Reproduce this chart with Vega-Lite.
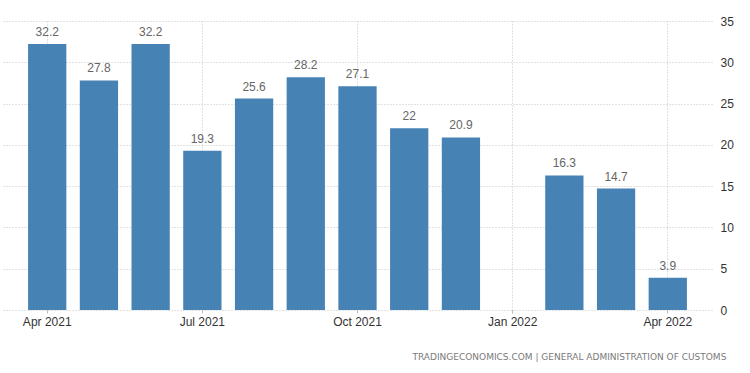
{
  "$schema": "https://vega.github.io/schema/vega-lite/v6.json",
  "width": 709,
  "height": 289,
  "autosize": {"type": "none"},
  "padding": {"left": 3, "top": 21, "right": 38, "bottom": 63},
  "background": "white",
  "config": {"view": {"stroke": null}, "font": "Liberation Sans"},
  "title": {
    "text": "TRADINGECONOMICS.COM  |  GENERAL ADMINISTRATION OF CUSTOMS",
    "orient": "bottom",
    "anchor": "end",
    "fontSize": 9,
    "fontWeight": "normal",
    "color": "#7a7a7a",
    "font": "DejaVu Sans",
    "offset": 26,
    "dx": -7
  },
  "data": {
    "values": [
      {"month": "Apr 2021", "value": 32.2},
      {"month": "May 2021", "value": 27.8},
      {"month": "Jun 2021", "value": 32.2},
      {"month": "Jul 2021", "value": 19.3},
      {"month": "Aug 2021", "value": 25.6},
      {"month": "Sep 2021", "value": 28.2},
      {"month": "Oct 2021", "value": 27.1},
      {"month": "Nov 2021", "value": 22},
      {"month": "Dec 2021", "value": 20.9},
      {"month": "Jan 2022", "value": null},
      {"month": "Feb 2022", "value": 16.3},
      {"month": "Mar 2022", "value": 14.7},
      {"month": "Apr 2022", "value": 3.9}
    ]
  },
  "encoding": {
    "x": {
      "field": "month",
      "type": "ordinal",
      "sort": null,
      "scale": {
        "domain": ["Apr 2021","May 2021","Jun 2021","Jul 2021","Aug 2021","Sep 2021","Oct 2021","Nov 2021","Dec 2021","Jan 2022","Feb 2022","Mar 2022","Apr 2022"],
        "paddingInner": 0.26,
        "paddingOuter": 0.485
      },
      "axis": {
        "title": null,
        "values": ["Apr 2021","Jul 2021","Oct 2021","Jan 2022","Apr 2022"],
        "bandPosition": 0.5,
        "labelAngle": 0,
        "labelFontSize": 12,
        "labelColor": "#333333",
        "labelPadding": 3,
        "domain": false,
        "ticks": true,
        "tickSize": 3,
        "tickColor": "#bbbbbb",
        "grid": true,
        "gridColor": "#c4c4c4",
        "gridDash": [1, 2],
        "gridWidth": 1
      }
    },
    "y": {
      "field": "value",
      "type": "quantitative",
      "scale": {"domain": [0, 35], "nice": false},
      "axis": {
        "title": null,
        "orient": "right",
        "values": [0, 5, 10, 15, 20, 25, 30, 35],
        "labelFontSize": 12,
        "labelColor": "#333333",
        "labelPadding": 8,
        "domain": false,
        "ticks": false,
        "grid": true,
        "gridColor": "#c4c4c4",
        "gridDash": [1, 2],
        "gridWidth": 1
      }
    }
  },
  "layer": [
    {"mark": {"type": "bar", "color": "#4682B4"}},
    {
      "mark": {"type": "text", "baseline": "alphabetic", "dy": -8, "fontSize": 12, "color": "#666666"},
      "encoding": {"text": {"field": "value", "type": "quantitative"}}
    }
  ]
}
